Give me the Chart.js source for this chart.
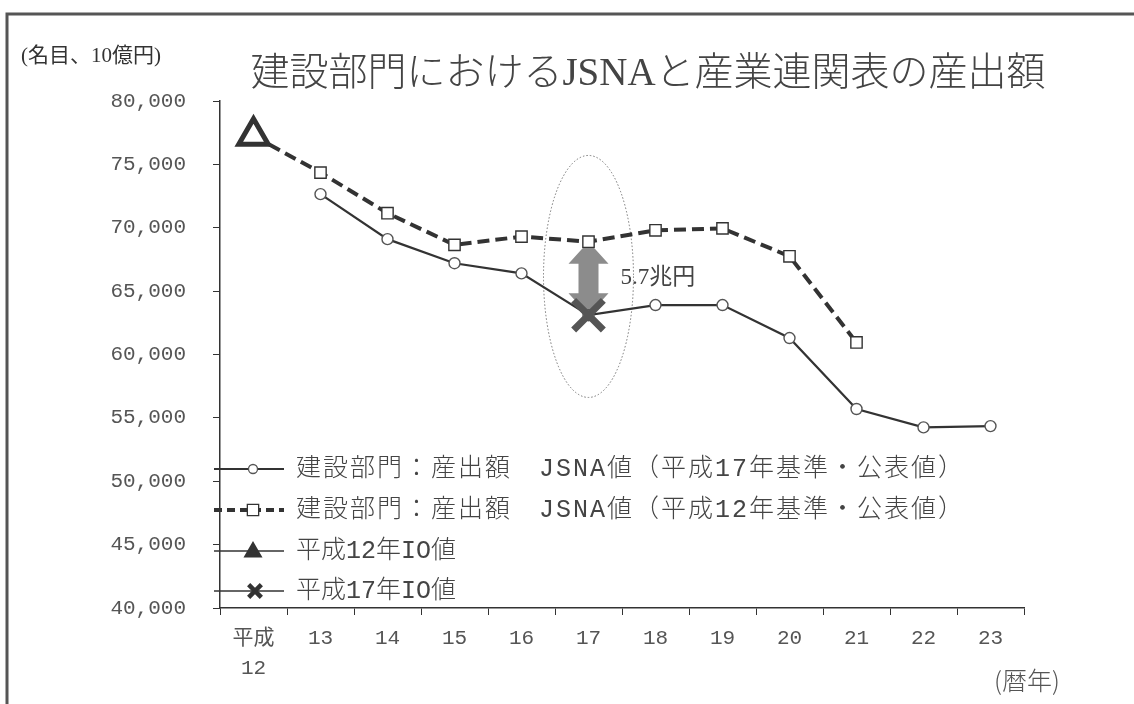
<!DOCTYPE html>
<html><head><meta charset="utf-8">
<script src="https://cdn.jsdelivr.net/npm/chart.js@4.4.1/dist/chart.umd.min.js"></script>
<style>html,body{margin:0;padding:0;background:#fff;}#wrap{width:1134px;height:704px;position:relative;}</style>
</head><body><div id="wrap"><canvas id="c" width="1134" height="704"></canvas></div>
<script>
// ---- data ----
const categories = [["平成","12"],"13","14","15","16","17","18","19","20","21","22","23"];
const jsnaH17 = [null,72650,69100,67200,66400,63100,63900,63900,61300,55700,54250,54350];
const jsnaH12 = [77250,74350,71150,68650,69300,68900,69800,69950,67750,60950,null,null];
const ioH12   = [77250,null,null,null,null,null,null,null,null,null,null,null];
const ioH17   = [null,null,null,null,null,63100,null,null,null,null,null,null];
const seriesLabels = [
  "建設部門：産出額　JSNA値（平成17年基準・公表値）",
  "建設部門：産出額　JSNA値（平成12年基準・公表値）",
  "平成12年IO値",
  "平成17年IO値"
];
const yMin = 40000, yMax = 80000, yStep = 5000;
const titleText = "建設部門におけるJSNAと産業連関表の産出額";
const unitText = "(名目、10億円)";
const xUnitText = "(暦年)";
const gapText = "5.7兆円";
const gapIndex = 5;

const MONO = "'Liberation Mono','Noto Sans CJK JP'";

function drawMarker(ctx, style, x, y, r, lw, stroke, fill){
  ctx.save();
  ctx.lineWidth = lw; ctx.strokeStyle = stroke; ctx.fillStyle = fill;
  ctx.setLineDash([]);
  ctx.beginPath();
  if(style==='circle'){ ctx.arc(x,y,r,0,Math.PI*2); ctx.fill(); ctx.stroke(); }
  else if(style==='rect'){ const s=r*Math.SQRT1_2; ctx.rect(x-s,y-s,2*s,2*s); ctx.fill(); ctx.stroke(); }
  else if(style==='triangle'){
    let a=0; ctx.moveTo(x+Math.sin(a)*r,y-Math.cos(a)*r);
    a+=2*Math.PI/3; ctx.lineTo(x+Math.sin(a)*r,y-Math.cos(a)*r);
    a+=2*Math.PI/3; ctx.lineTo(x+Math.sin(a)*r,y-Math.cos(a)*r);
    ctx.closePath(); ctx.fill(); ctx.stroke();
  } else if(style==='crossRot'){
    const d=r*Math.SQRT1_2;
    ctx.moveTo(x-d,y-d); ctx.lineTo(x+d,y+d); ctx.moveTo(x+d,y-d); ctx.lineTo(x-d,y+d); ctx.stroke();
  }
  ctx.restore();
}

const decor = {
  id:'decor',
  beforeDraw(chart){
    const ctx = chart.ctx;
    ctx.save();
    ctx.fillStyle='#fff'; ctx.fillRect(0,0,chart.width,chart.height);
    // frame
    ctx.strokeStyle='#555'; ctx.lineWidth=3;
    ctx.beginPath(); ctx.moveTo(7,704); ctx.lineTo(7,14); ctx.lineTo(1134,14); ctx.stroke();
    // title
    ctx.fillStyle='#444'; ctx.textBaseline='middle'; ctx.textAlign='center';
    ctx.font="300 39px 'Liberation Serif','Noto Sans CJK JP'";
    ctx.fillText(titleText, 648, 75);
    // unit
    ctx.textAlign='left'; ctx.fillStyle='#333';
    ctx.font="21px 'Liberation Serif','Noto Sans CJK JP'";
    ctx.fillText(unitText, 21, 56);
    // x unit
    ctx.fillStyle='#555';
    ctx.font="300 25px 'Noto Sans CJK JP'";
    ctx.fillText(xUnitText, 994, 680);
    ctx.restore();
  },
  beforeDatasetsDraw(chart){
    const ctx = chart.ctx, xs = chart.scales.x, ys = chart.scales.y;
    const cx = xs.getPixelForValue(gapIndex);
    const top = ys.getPixelForValue(jsnaH12[gapIndex]);
    const bot = ys.getPixelForValue(ioH17[gapIndex]);
    const mid = (top+bot)/2;
    ctx.save();
    // dotted ellipse
    ctx.strokeStyle='#777'; ctx.lineWidth=1; ctx.setLineDash([1.5,2]);
    ctx.beginPath(); ctx.ellipse(cx, mid-2, 45, 121, 0, 0, Math.PI*2); ctx.stroke();
    ctx.setLineDash([]);
    // double arrow
    const hw=20, sw=10, hh=22;
    ctx.fillStyle='#8c8c8c';
    ctx.beginPath();
    ctx.moveTo(cx, top);
    ctx.lineTo(cx+hw, top+hh); ctx.lineTo(cx+sw, top+hh);
    ctx.lineTo(cx+sw, bot-hh); ctx.lineTo(cx+hw, bot-hh);
    ctx.lineTo(cx, bot);
    ctx.lineTo(cx-hw, bot-hh); ctx.lineTo(cx-sw, bot-hh);
    ctx.lineTo(cx-sw, top+hh); ctx.lineTo(cx-hw, top+hh);
    ctx.closePath(); ctx.fill();
    // label
    ctx.fillStyle='#444'; ctx.textBaseline='middle'; ctx.textAlign='left';
    ctx.font="23px 'Liberation Serif','Noto Sans CJK JP'";
    ctx.fillText(gapText, cx+32, mid);
    ctx.restore();
  },
  afterDraw(chart){
    const ctx = chart.ctx;
    const rows=[469,510,551,591];
    const ds = chart.data.datasets;
    ctx.save();
    rows.forEach((y,i)=>{
      const d = ds[i];
      ctx.beginPath();
      ctx.strokeStyle='#333';
      if(i===1){ ctx.lineWidth=4; ctx.setLineDash([8,5]); }
      else { ctx.lineWidth= i===0?2:1.5; ctx.setLineDash([]); }
      ctx.moveTo(214,y); ctx.lineTo(284,y); ctx.stroke();
      ctx.setLineDash([]);
      if(i===0) drawMarker(ctx,'circle',253,y,4.5,1.3,'#555','#fff');
      if(i===1) drawMarker(ctx,'rect',253,y,8,1.3,'#333','#fff');
      if(i===2) drawMarker(ctx,'triangle',253,y+1,8,3,'#333','#333');
      if(i===3) drawMarker(ctx,'crossRot',255,y,9,4.5,'#333','#333');
      ctx.fillStyle='#444'; ctx.textBaseline='middle'; ctx.textAlign='left';
      ctx.font="300 25px "+MONO;
      ctx.letterSpacing = i<2 ? '2px' : '0px';
      ctx.fillText(d.label, 296, y);
    });
    ctx.letterSpacing = '0px';
    ctx.restore();
  }
};

new Chart(document.getElementById('c'), {
  type:'line',
  data:{
    labels: categories,
    datasets:[
      {label:seriesLabels[0], data:jsnaH17, order:2, borderColor:'#333', borderWidth:2.2,
       pointStyle:'circle', pointRadius:5.5, pointBorderWidth:1.4, pointBorderColor:'#555', pointBackgroundColor:'#fff', spanGaps:false},
      {label:seriesLabels[1], data:jsnaH12, order:1, borderColor:'#333', borderWidth:4, borderDash:[12,6],
       pointStyle:'rect', pointRadius:8, pointBorderWidth:1.4, pointBorderColor:'#333', pointBackgroundColor:'#fff'},
      {label:seriesLabels[2], data:ioH12, order:0, showLine:false, borderColor:'#333',
       pointStyle:'triangle', pointRadius:17, pointBorderWidth:5, pointBorderColor:'#333', pointBackgroundColor:'#fff'},
      {label:seriesLabels[3], data:ioH17, order:0, showLine:false, borderColor:'#555',
       pointStyle:'crossRot', pointRadius:21, pointBorderWidth:7, pointBorderColor:'#555', pointBackgroundColor:'#555'}
    ]
  },
  options:{
    responsive:false, animation:false, devicePixelRatio:1,
    layout:{padding:{top:101,right:110,bottom:0,left:0}},
    plugins:{legend:{display:false}, tooltip:{enabled:false}, title:{display:false}},
    elements:{line:{tension:0}},
    scales:{
      x:{
        type:'category', offset:true,
        grid:{offset:true, drawOnChartArea:false, drawTicks:true, tickLength:7, color:'#333', lineWidth:1},
        border:{display:true, color:'#333', width:1.5},
        ticks:{color:'#555', font:{family:MONO, size:21, lineHeight:1.4}, padding:9, maxRotation:0, autoSkip:false},
        afterFit(s){ s.height = 96; }
      },
      y:{
        min:yMin, max:yMax,
        grid:{drawOnChartArea:false, drawTicks:true, tickLength:7, color:'#333', lineWidth:1},
        border:{display:true, color:'#333', width:1.5},
        ticks:{stepSize:yStep, color:'#555', font:{family:MONO, size:21}, padding:27,
               callback:v=>v.toLocaleString('en-US')},
        afterFit(s){ s.width = 220; }
      }
    }
  },
  plugins:[decor]
});
</script></body></html>
